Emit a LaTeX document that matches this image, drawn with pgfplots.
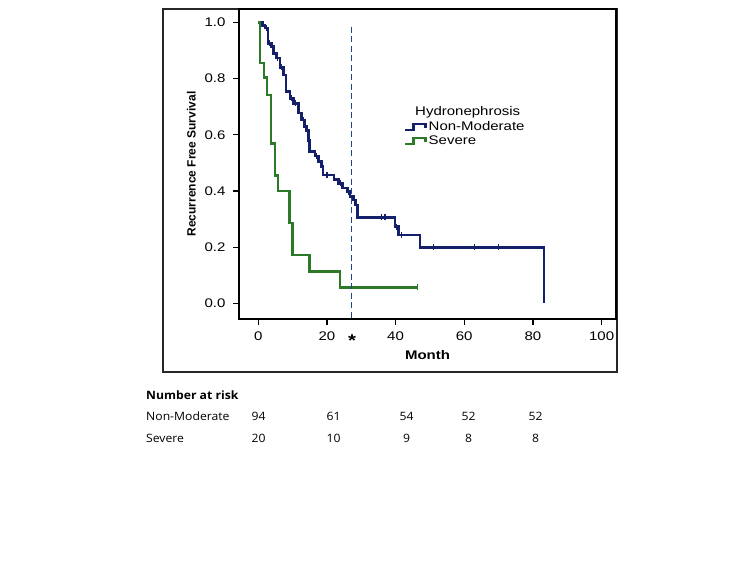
\documentclass[border=0pt]{standalone}
\usepackage{pgfplots}
\pgfplotsset{compat=1.18}
\usepackage{fontspec}
\setmainfont{Liberation Sans}[FakeStretch=1.2]
\newfontfamily\ylfont{Liberation Sans}
\newfontfamily\tabfont{Open Sans}[FakeStretch=1.06]
\definecolor{kmblue}{RGB}{20,32,105}
\definecolor{kmgreen}{RGB}{44,122,40}
\definecolor{dashblue}{RGB}{30,70,140}
\begin{document}
\begin{tikzpicture}[x=1pt,y=1pt]
\useasboundingbox (0,0) rectangle (750,563);
\fill[white] (0,0) rectangle (750,563);
\draw[line width=1.2pt, black!85] (163,191) rectangle (617,554);
\begin{axis}[
  at={(239pt,244pt)}, anchor=south west,
  scale only axis, width=377pt, height=310pt,
  xmin=-5.6, xmax=104.2, ymin=-0.056, ymax=1.048,
  xtick={0,20,40,60,80,100},
  ytick={0,0.2,0.4,0.6,0.8,1.0},
  yticklabel style={/pgf/number format/.cd, fixed, fixed zerofill, precision=1},
  xtick pos=bottom, ytick pos=left,
  tick align=outside, major tick length=6pt,
  tick style={line width=1.2pt, black},
  axis line style={line width=1.4pt, black},
  /pgf/number format/assume math mode=true,
  tick label style={font=\fontsize{12.5}{14}\selectfont},
  xticklabel shift=3pt, yticklabel shift=4pt,
  xlabel={\bfseries Month},
  xlabel style={font=\fontsize{12.5}{14}\selectfont, yshift=-3pt},
  ylabel={\ylfont\bfseries Recurrence Free Survival},
  ylabel style={font=\fontsize{12}{13}\selectfont, yshift=2pt},
  legend style={at={(0.4377,0.6387)}, anchor=north west, draw=none, fill=none,
    inner sep=0pt, row sep=2pt, font=\fontsize{12.5}{13}\selectfont,
    nodes={inner sep=0pt, text height=9pt, text depth=3pt}},
  legend cell align=left,
  legend image code/.code={\draw[#1, line width=2.4pt] (-1pt,-3pt) -- (7pt,-3pt) -- (7pt,3.5pt) -- (19pt,3.5pt) -- (19pt,-1pt);},
  clip=false,
]
\addplot[const plot, kmblue, line width=2.6pt] coordinates {
(0,1.0) (1.3,0.99) (2.0,0.98) (2.9,0.926) (3.9,0.914) (4.4,0.89) (5.3,0.873)
(6.3,0.84) (7.3,0.813) (8.1,0.755) (9.2,0.73) (10.2,0.712) (11.7,0.678)
(12.6,0.653) (13.4,0.63) (14.0,0.615) (14.6,0.58) (15.0,0.54) (16.5,0.525)
(17.5,0.505) (18.5,0.487) (18.9,0.457) (22.1,0.44) (23.3,0.427) (24.5,0.41)
(26.0,0.398) (26.7,0.38) (27.7,0.368) (28.3,0.35) (28.9,0.306) (39.8,0.273)
(40.8,0.243) (47.1,0.199) (83.2,0.0)
};
\addlegendentry{\,Non-Moderate}
\addplot[const plot, kmgreen, line width=2.6pt] coordinates {
(0,1.0) (0.5,0.855) (1.65,0.805) (2.5,0.742) (3.7,0.57) (4.9,0.455) (5.8,0.40)
(9.1,0.286) (9.9,0.172) (14.9,0.114) (23.8,0.057) (46.3,0.057)
};
\addlegendentry{\,Severe}
\addplot[only marks, mark=|, mark size=3pt, kmblue, line width=1.2pt, forget plot] coordinates {
(2.5,0.98) (3.3,0.926) (5.6,0.873) (6.7,0.84) (9.7,0.73) (10.8,0.712)
(13.1,0.653) (14.3,0.615) (17.0,0.525) (20.0,0.457) (24.0,0.427) (26.3,0.398)
(28.0,0.368) (35.9,0.306) (36.9,0.306) (40.3,0.273) (41.8,0.243)
(51.0,0.199) (63.1,0.199) (69.9,0.199)
};
\addplot[only marks, mark=|, mark size=3pt, kmgreen, line width=1.2pt, forget plot] coordinates {
(46.3,0.057)
};
\addplot[dashblue, line width=1.6pt, dash pattern=on 6pt off 3.5pt, forget plot] coordinates {
(27.2,0.985) (27.2,-0.056)
};
\end{axis}
\node[anchor=west, inner sep=0pt, font=\fontsize{12.5}{14}\selectfont] at (415,451) {Hydronephrosis};
\node[inner sep=0pt, font=\fontsize{17}{17}\selectfont\bfseries] at (352,222) {*};
\begin{scope}[font=\tabfont\fontsize{11.5}{13}\selectfont]
\node[anchor=west, inner sep=0pt, font=\tabfont\bfseries\fontsize{11.5}{13}\selectfont] at (146,168) {Number at risk};
\node[anchor=west, inner sep=0pt] at (146,147) {Non-Moderate};
\node[anchor=west, inner sep=0pt] at (146,125) {Severe};
\node[inner sep=0pt] at (258.5,147) {94};
\node[inner sep=0pt] at (333.7,147) {61};
\node[inner sep=0pt] at (406.7,147) {54};
\node[inner sep=0pt] at (468.5,147) {52};
\node[inner sep=0pt] at (535.5,147) {52};
\node[inner sep=0pt] at (258.5,125) {20};
\node[inner sep=0pt] at (333.7,125) {10};
\node[inner sep=0pt] at (406.7,125) {9};
\node[inner sep=0pt] at (468.5,125) {8};
\node[inner sep=0pt] at (535.5,125) {8};
\end{scope}
\end{tikzpicture}
\end{document}
